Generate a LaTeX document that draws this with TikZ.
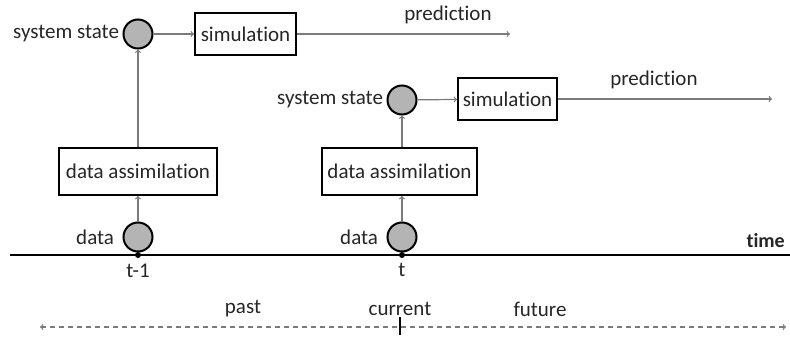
\documentclass[tikz,border=0pt]{standalone}
\usepackage{fontspec}
\setmainfont[Ligatures=NoCommon]{Carlito}
\usetikzlibrary{positioning}

\definecolor{StateGray}{HTML}{B4B4B4}
\definecolor{LinkGray}{HTML}{7A7A7A}
\definecolor{TextGray}{HTML}{262626}

\begin{document}
\begin{tikzpicture}[x=1pt, y=-1pt, font=\fontsize{21}{24}\selectfont, text=TextGray,
  state/.style={circle, draw=black, line width=2, fill=StateGray, minimum size=29pt, inner sep=0pt},
  block/.style={draw=black, line width=2, inner sep=2pt},
  link/.style={->, draw=LinkGray, line width=1.2}]

 \useasboundingbox (0,0) rectangle (790,337);

 %%%%%%%%%% Time axis %%%%%%%%%%
 \coordinate (tstart) at (10,255);
 \coordinate (tend) at (790,255);
 \draw [line width=1.5] (tstart) -- (tend);
 \node [font=\bfseries\fontsize{20}{24}\selectfont, anchor=south east, inner sep=1pt] (time) at (786,249) {time};

 %%%%%%%%%% Step t-1 %%%%%%%%%%
 \node [state] (data1) at (138,237) {};
 \node [state] (state1) at (138,34) {};
 \node [block, minimum width=101pt, minimum height=42pt] (sim1) at (245.5,34) {simulation};
 \node [block, minimum width=158pt, minimum height=47pt] (assim1) at (138,171.5) {data assimilation};
 \coordinate (pred1) at (510,34);
 \coordinate (tick1) at (138,255);

 \node [left=5pt of data1] (datalabel1) {data};
 \node [left=0pt of state1] (statelabel1) {system state};
 \node (predlabel1) at (448,15) {prediction};
 \node [below=5pt of tick1] (tlabel1) {t-1};

 \draw [link] (data1) -- (assim1);
 \draw [link] (assim1) -- (state1);
 \draw [link] (state1) -- (sim1);
 \draw [link] (sim1) -- (pred1);

 %%%%%%%%%% Step t %%%%%%%%%%
 \node [state] (data2) at (402,237) {};
 \node [state] (state2) at (402,100) {};
 \node [block, minimum width=99pt, minimum height=42pt] (sim2) at (507.5,99) {simulation};
 \node [block, minimum width=155pt, minimum height=47pt] (assim2) at (399.5,171.5) {data assimilation};
 \coordinate (pred2) at (772,99);
 \coordinate (tick2) at (402,255);

 \node [left=5pt of data2] (datalabel2) {data};
 \node [left=0pt of state2] (statelabel2) {system state};
 \node (predlabel2) at (654,80) {prediction};
 \node [below=5pt of tick2] (tlabel2) {t};

 \draw [link] (data2) -- (data2 |- assim2.south);
 \draw [link] (data2 |- assim2.north) -- (state2);
 \draw [link] (state2) -- (sim2);
 \draw [link] (sim2) -- (pred2);

 %%%%%%%%%% Ticks on the axis %%%%%%%%%%
 \foreach \i in {1,2}
 {
   \fill (tick\i) circle (3);
 }

 %%%%%%%%%% Past / current / future %%%%%%%%%%
 \coordinate (pastend) at (40,327);
 \coordinate (futureend) at (786,327);
 \coordinate (now) at (400,327);
 \draw [<->, dash pattern=on 5pt off 4pt, draw=LinkGray, line width=1.2] (pastend) -- (futureend);
 \draw [line width=1.5] ([yshift=-8]now) -- ([yshift=10]now);
 \node (pastlabel) at (243,309) {past};
 \node (nowlabel) at (400,309) {current};
 \node (futurelabel) at (540,309) {future};

\end{tikzpicture}
\end{document}
